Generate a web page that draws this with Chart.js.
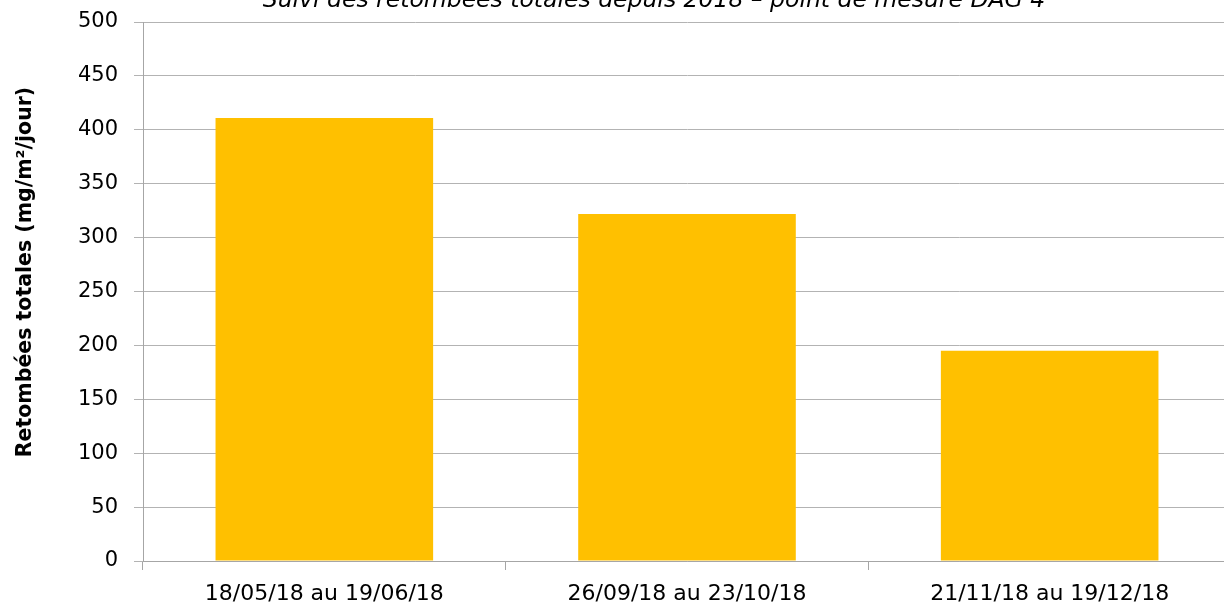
<!DOCTYPE html>
<html>
<head>
<meta charset="utf-8">
<script src="https://cdn.jsdelivr.net/npm/chart.js@4"></script>
<style>
  html, body { margin: 0; padding: 0; background: #fff; overflow: hidden; }
  #wrap { width: 1232px; height: 607px; }
</style>
</head>
<body>
<div id="wrap"><canvas id="chart"></canvas></div>
<script>
const periods = ['18/05/18 au 19/06/18', '26/09/18 au 23/10/18', '21/11/18 au 19/12/18'];
const retombees = [411, 322, 195];
const chartTitle = 'Suivi des retombées totales depuis 2018 – point de mesure DAG 4';
const yTitle = 'Retombées totales (mg/m²/jour)';

// titre coupé en haut + titre de l'axe Y placé comme dans l'original
const titlePlugin = {
    id: 'cutTitle',
    afterDraw(chart) {
        const c = chart.ctx;
        c.save();
        c.fillStyle = '#000';
        c.textAlign = 'center';
        c.textBaseline = 'alphabetic';
        c.font = 'italic 23.5px "DejaVu Sans"';
        c.fillText(chartTitle, 654, 7);

        c.translate(26, 272);
        c.rotate(-Math.PI / 2);
        c.textBaseline = 'middle';
        c.font = 'bold 20.5px "DejaVu Sans"';
        c.fillText(yTitle, 0, 0);
        c.restore();
    }
};

const ctx = document.getElementById('chart');

new Chart(ctx, {
    type: 'bar',
    data: {
        labels: periods,
        datasets: [{
            data: retombees,
            backgroundColor: '#FFC000',
            borderWidth: 0,
            barPercentage: 0.6,
            categoryPercentage: 1
        }]
    },
    options: {
        responsive: true,
        maintainAspectRatio: false,
        animation: false,
        layout: { padding: { top: 22, right: 1, left: 0, bottom: 0 } },
        plugins: {
            legend: { display: false },
            tooltip: { enabled: false }
        },
        scales: {
            x: {
                grid: { drawOnChartArea: false, color: '#a6a6a6', tickLength: 9 },
                border: { color: '#a6a6a6' },
                ticks: { color: '#000', font: { family: 'DejaVu Sans', size: 22 }, padding: 11, maxRotation: 0 },
                afterFit(scale) { scale.height = 46; scale.paddingLeft = 0; scale.paddingRight = 0; }
            },
            y: {
                min: 0,
                max: 500,
                ticks: { stepSize: 50, color: '#000', font: { family: 'DejaVu Sans', size: 21 }, padding: 16 },
                grid: { color: '#b3b3b3', tickLength: 9 },
                border: { color: '#a6a6a6' },
                afterFit(scale) { scale.width = 143; scale.paddingTop = 0; scale.paddingBottom = 0; }
            }
        }
    },
    plugins: [titlePlugin]
});
</script>
</body>
</html>
